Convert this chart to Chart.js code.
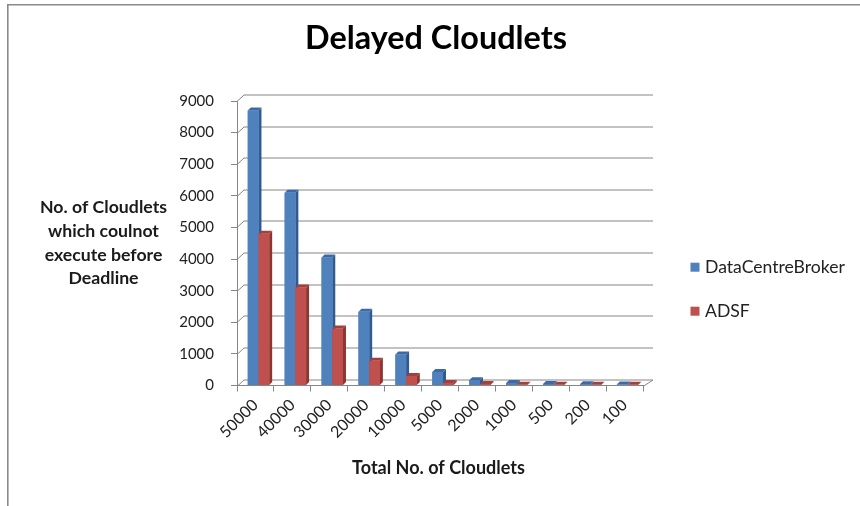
<!DOCTYPE html>
<html><head><meta charset="utf-8">
<script src="https://cdn.jsdelivr.net/npm/chart.js@4.4.1/dist/chart.umd.min.js"></script>
<style>html,body{margin:0;padding:0;background:#fff;overflow:hidden}#wrap{width:860px;height:506px;position:relative}</style>
</head><body><div id="wrap"><canvas id="c" width="860" height="506"></canvas></div>
<script>
const categories = ['50000','40000','30000','20000','10000','5000','2000','1000','500','200','100'];
const brokerValues = [8700, 6100, 4050, 2330, 980, 430, 170, 80, 50, 40, 30];
const adsfValues = [4800, 3100, 1800, 780, 300, 80, 50, 20, 20, 20, 20];
const seriesNames = ['DataCentreBroker', 'ADSF'];
const yMax = 9000;
const yStep = 1000;
const chartTitle = 'Delayed Cloudlets';
const yTitleLines = ['No. of Cloudlets', 'which coulnot', 'execute before', 'Deadline'];
const xTitle = 'Total No. of Cloudlets';

const FAMILY = 'Lato, "Open Sans", sans-serif';
const palette = [
  {front:'#4F81BD', side:'#2F5A93', top:'#3C6AA8'},
  {front:'#C0504D', side:'#8C3532', top:'#A2403D'}
];
const DX = 7, DY = 6.5, BDX = 3, BDY = 3, SHIFT = 3;

function fitSize(text, weight, target){
  const c = document.createElement('canvas').getContext('2d');
  c.font = weight + ' 100px ' + FAMILY;
  return 100 * target / c.measureText(text).width;
}
const titleSize = fitSize(chartTitle, 'bold', 262);
const yTitleSize = fitSize(yTitleLines[0], 'bold', 127);
const xTitleSize = fitSize(xTitle, 'bold', 173);
const legendSize = fitSize(seriesNames[0], 'normal', 140);

const deco = {
  id: 'deco',
  beforeDraw(chart){
    const ctx = chart.ctx;
    ctx.save();
    ctx.fillStyle = '#fff'; ctx.fillRect(0, 0, chart.width, chart.height);
    ctx.strokeStyle = '#8a8a8a'; ctx.lineWidth = 1.6;
    ctx.beginPath(); ctx.moveTo(7.8, chart.height); ctx.lineTo(7.8, 4.8); ctx.lineTo(chart.width, 4.8); ctx.stroke();
    ctx.restore();
  },
  beforeDatasetsDraw(chart){
    const {ctx, chartArea:{left, right}, scales:{y}} = chart;
    ctx.save();
    ctx.strokeStyle = '#868686'; ctx.lineWidth = 1;
    y.ticks.forEach(t => {
      const py = Math.round(y.getPixelForValue(t.value)) + 0.5;
      ctx.beginPath(); ctx.moveTo(left, py); ctx.lineTo(left + DX, py - DY); ctx.lineTo(right + DX + 3, py - DY); ctx.stroke();
    });
    const pb = Math.round(y.getPixelForValue(0)) + 0.5;
    ctx.beginPath(); ctx.moveTo(right, pb); ctx.lineTo(right + DX + 3, pb - DY); ctx.stroke();
    ctx.restore();
    ctx.save();
    ctx.translate(SHIFT, 0);
  },
  afterDatasetsDraw(chart){
    const ctx = chart.ctx;
    const metas = chart.data.datasets.map((d, i) => chart.getDatasetMeta(i));
    const n = chart.data.labels.length;
    for (let i = 0; i < n; i++) {
      metas.forEach((m, di) => {
        const el = m.data[i];
        const p = el.getProps(['x', 'y', 'base', 'width'], true);
        const l = p.x - p.width / 2, r = p.x + p.width / 2;
        const col = palette[di];
        ctx.fillStyle = col.side;
        ctx.beginPath(); ctx.moveTo(r, p.y); ctx.lineTo(r + BDX, p.y - BDY); ctx.lineTo(r + BDX, p.base - BDY); ctx.lineTo(r, p.base); ctx.closePath(); ctx.fill();
        ctx.fillStyle = col.top;
        ctx.beginPath(); ctx.moveTo(l, p.y); ctx.lineTo(l + BDX, p.y - BDY); ctx.lineTo(r + BDX, p.y - BDY); ctx.lineTo(r, p.y); ctx.closePath(); ctx.fill();
        el.draw(ctx);
      });
    }
    ctx.restore();
  },
  afterDraw(chart){
    const ctx = chart.ctx;
    ctx.save();
    ctx.textAlign = 'center'; ctx.textBaseline = 'alphabetic';
    ctx.fillStyle = '#000';
    ctx.font = 'bold ' + titleSize + 'px ' + FAMILY;
    ctx.fillText(chartTitle, 436, 49);
    ctx.fillStyle = '#1a1a1a';
    ctx.font = 'bold ' + yTitleSize + 'px ' + FAMILY;
    yTitleLines.forEach((s, i) => ctx.fillText(s, 103.5, 213.3 + i * 23.6));
    ctx.font = 'bold ' + xTitleSize + 'px ' + FAMILY;
    ctx.fillText(xTitle, 438.5, 474);
    ctx.textAlign = 'left';
    ctx.font = legendSize + 'px ' + FAMILY;
    chart.data.datasets.forEach((ds, i) => {
      const yb = 273.3 + i * 44;
      ctx.fillStyle = ds.backgroundColor;
      ctx.fillRect(690.5, yb - 10.6, 9, 9);
      ctx.fillStyle = '#222';
      ctx.fillText(ds.label, 705, yb);
    });
    ctx.restore();
  }
};

const yTickValues = [];
for (let v = 0; v <= yMax; v += yStep) yTickValues.push(v);

new Chart(document.getElementById('c'), {
  type: 'bar',
  data: {
    labels: categories,
    datasets: [
      {label: seriesNames[0], data: brokerValues, backgroundColor: palette[0].front, borderWidth: 0},
      {label: seriesNames[1], data: adsfValues, backgroundColor: palette[1].front, borderWidth: 0}
    ]
  },
  options: {
    responsive: false, animation: false, devicePixelRatio: 1,
    layout: {padding: {left: 0, right: 217, top: 101, bottom: 0}},
    datasets: {bar: {categoryPercentage: 0.58, barPercentage: 1.0}},
    plugins: {legend: {display: false}, title: {display: false}, tooltip: {enabled: false}},
    scales: {
      x: {
        grid: {drawOnChartArea: false, drawTicks: true, tickLength: 6, color: '#868686', offset: true},
        border: {display: true, color: '#868686', width: 1},
        ticks: {minRotation: 45, maxRotation: 45, autoSkip: false, padding: 4, color: '#222', font: {family: FAMILY, size: 16}},
        afterFit(s){ s.height = 120.5; }
      },
      y: {
        min: 0, max: yMax,
        afterBuildTicks(s){ s.ticks = yTickValues.map(v => ({value: v})); },
        grid: {drawOnChartArea: false, drawTicks: true, tickLength: 6, color: '#868686'},
        border: {display: true, color: '#868686', width: 1},
        ticks: {padding: 17, color: '#222', font: {family: FAMILY, size: 15}, callback: v => String(v)},
        afterFit(s){ s.width = 237; }
      }
    }
  },
  plugins: [deco]
});
</script>
</body></html>
